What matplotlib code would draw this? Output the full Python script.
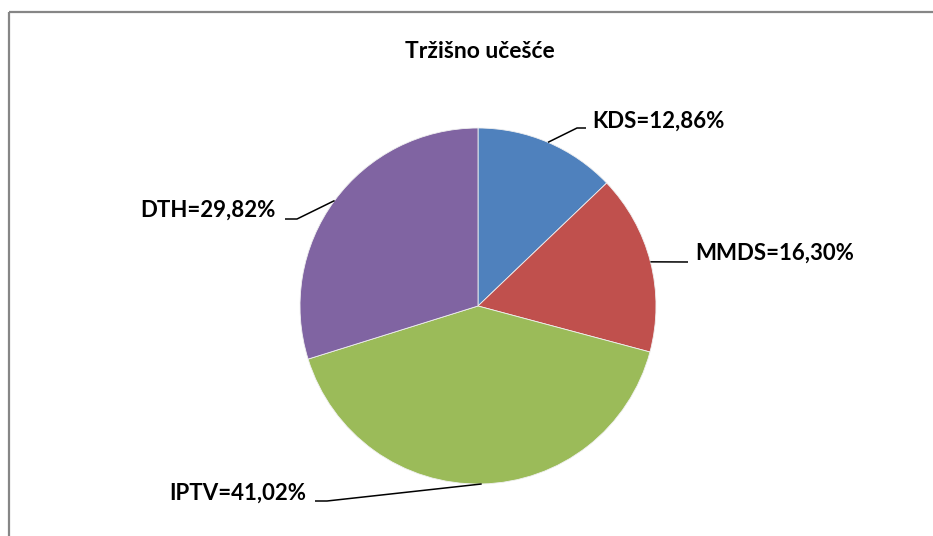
import numpy as np
import matplotlib.pyplot as plt

W, H = 933, 536

# Market share by platform
categories = ['KDS', 'MMDS', 'IPTV', 'DTH']
shares = [12.86, 16.30, 41.02, 29.82]
colors = ['#4F81BD', '#C0504D', '#9BBB59', '#8064A2']

plt.rcParams['font.family'] = ['Lato', 'DejaVu Sans']

fig = plt.figure(figsize=(W / 100, H / 100), dpi=100, facecolor='white')
ax = fig.add_axes([0, 0, 1, 1])

cx, cy, r = 478, H - 306, 178
wedges, _ = ax.pie(shares, colors=colors, startangle=90, counterclock=False,
                   center=(cx, cy), radius=r,
                   wedgeprops=dict(edgecolor='#f0f0f0', linewidth=0.6))
ax.set_xlim(0, W)
ax.set_ylim(0, H)
ax.set_aspect('equal')
ax.axis('off')

# label placement: (text x, baseline y, elbow x, elbow y, end x, alignment)
layout = {
    'KDS':  (592, 128, 577, 128, 586, 'left'),
    'MMDS': (695, 260, 688, 262, 688, 'left'),
    'IPTV': (306, 500, 327, 501, 315, 'right'),
    'DTH':  (276, 217, 297, 219, 285, 'right'),
}

for w, name, val in zip(wedges, categories, shares):
    mid = np.deg2rad((w.theta1 + w.theta2) / 2)
    ex, ey = cx + r * np.cos(mid), cy + r * np.sin(mid)
    tx, ty, bx, by, endx, ha = layout[name]
    ax.plot([ex, bx, endx], [ey, H - by, H - by], color='black', lw=1.1,
            solid_capstyle='butt', zorder=3)
    label = f'{name}={val:.2f}%'.replace('.', ',')
    ax.text(tx, H - ty, label, ha=ha, va='baseline', fontsize=16,
            fontweight='bold', color='black')

ax.text(480, H - 58, 'Tržišno učešće', ha='center', va='baseline',
        fontsize=16.5, fontweight='bold', color='black')

# chart-area frame (only top and left edges fall inside the image)
ax.plot([8.5, W + 10], [H - 12, H - 12], color='#868686', lw=1.6,
        solid_capstyle='butt', clip_on=False)
ax.plot([8.5, 8.5], [H - 12, -10], color='#868686', lw=1.6,
        solid_capstyle='butt', clip_on=False)

fig.savefig('out.png', dpi=100, facecolor='white')
